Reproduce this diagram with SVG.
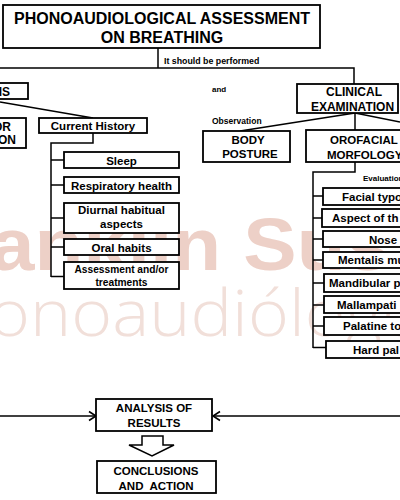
<svg xmlns="http://www.w3.org/2000/svg" width="400" height="500" viewBox="0 0 400 500">
<defs>
<style>
.box{fill:#fff;stroke:#000;stroke-width:1.8}
.t{font-family:"Liberation Sans",Arial,sans-serif;font-weight:bold;fill:#000}
.c{text-anchor:middle}
.e{text-anchor:end}
.ln{fill:none;stroke:#000;stroke-width:1.5}
.wm1{font-family:"Liberation Sans",Arial,sans-serif;font-weight:bold;fill:#edd0c7}
.wm2{font-family:"Open Sans","Liberation Sans",sans-serif;font-weight:300;fill:#f1dfd9}
</style>
<marker id="arr" markerUnits="userSpaceOnUse" markerWidth="12" markerHeight="12" refX="9" refY="6" orient="auto">
<path d="M2,1.5 L9,6 L2,10.5" fill="none" stroke="#000" stroke-width="1.6"/>
</marker>
</defs>
<rect width="400" height="500" fill="#fff"/>
<g id="watermark">
<text class="wm1" x="-90" y="270" font-size="74" textLength="480" lengthAdjust="spacingAndGlyphs">Franklin Sus</text>
<text class="wm2" x="-32" y="336" font-size="64" textLength="455" lengthAdjust="spacingAndGlyphs">fonoaudiólogo</text>
</g>
<g id="connectors">
<polyline class="ln" points="158,48 158,68"/>
<polyline class="ln" points="0,68 354,68 354,84"/>
<line class="ln" x1="0" y1="102" x2="93" y2="118"/>
<polyline class="ln" points="93,133 93,143 51,143 51,277"/>
<line class="ln" x1="51" y1="160" x2="64" y2="160"/>
<line class="ln" x1="51" y1="185" x2="64" y2="185"/>
<line class="ln" x1="51" y1="218" x2="64" y2="218"/>
<line class="ln" x1="51" y1="247" x2="64" y2="247"/>
<line class="ln" x1="51" y1="276.5" x2="64" y2="276.5"/>
<line class="ln" x1="355" y1="113" x2="240" y2="131"/>
<line class="ln" x1="355" y1="113" x2="400" y2="122"/>
<line class="ln" x1="355" y1="113" x2="355" y2="130"/>
<polyline class="ln" points="355,162 355,172 313,172 313,348"/>
<line class="ln" x1="313" y1="196" x2="323" y2="196"/>
<line class="ln" x1="313" y1="218" x2="322" y2="218"/>
<line class="ln" x1="313" y1="239" x2="323" y2="239"/>
<line class="ln" x1="313" y1="260" x2="323" y2="260"/>
<line class="ln" x1="313" y1="283" x2="324" y2="283"/>
<line class="ln" x1="313" y1="305" x2="324" y2="305"/>
<line class="ln" x1="313" y1="326" x2="324" y2="326"/>
<line class="ln" x1="313" y1="347.5" x2="326" y2="347.5"/>
<line class="ln" x1="0" y1="416" x2="96" y2="416" marker-end="url(#arr)"/>
<line class="ln" x1="400" y1="416" x2="213" y2="416" marker-end="url(#arr)"/>
<polygon points="142,436 163,436 163,445 174,445 152,456 129,445 142,445" fill="#fff" stroke="#000" stroke-width="1.5"/>
</g>
<g id="labels">
<text class="t" x="164" y="64" font-size="8.8">It should be performed</text>
<text class="t" x="212" y="92" font-size="8">and</text>
<text class="t" x="212" y="124" font-size="8.5">Observation</text>
<text class="t" x="363" y="181" font-size="8" font-weight="normal">Evaluation</text>
</g>
<g id="title">
<rect class="box" x="3" y="5" width="317" height="43"/>
<text class="t c" x="162" y="23.5" font-size="16">PHONOAUDIOLOGICAL ASSESSMENT</text>
<text class="t c" x="162" y="43" font-size="16">ON BREATHING</text>
</g>
<g id="anamnesis">
<rect class="box" x="-5" y="83" width="33" height="16"/>
<text class="t e" x="10" y="96" font-size="12">IS</text>
</g>
<g id="prior">
<rect class="box" x="-5" y="118" width="31" height="30"/>
<text class="t e" x="11" y="131" font-size="12">OR</text>
<text class="t e" x="16" y="144" font-size="12">ON</text>
</g>
<g id="current-history">
<rect class="box" x="39" y="118" width="108" height="15"/>
<text class="t c" x="93" y="130" font-size="11.5">Current History</text>
</g>
<g id="sleep">
<rect class="box" x="64" y="152" width="115" height="16"/>
<text class="t c" x="121.5" y="164.5" font-size="11.5">Sleep</text>
</g>
<g id="respiratory-health">
<rect class="box" x="64" y="177" width="115" height="16"/>
<text class="t c" x="121.5" y="189.5" font-size="11.5">Respiratory health</text>
</g>
<g id="diurnal">
<rect class="box" x="64" y="203" width="115" height="30"/>
<text class="t c" x="121.5" y="214" font-size="11.5">Diurnal habitual</text>
<text class="t c" x="121.5" y="228" font-size="11.5">aspects</text>
</g>
<g id="oral-habits">
<rect class="box" x="64" y="239" width="115" height="16"/>
<text class="t c" x="121.5" y="251.5" font-size="11.5">Oral habits</text>
</g>
<g id="assessment-treatments">
<rect class="box" x="64" y="262" width="115" height="27"/>
<text class="t c" x="121.5" y="273" font-size="10.2">Assessment and/or</text>
<text class="t c" x="121.5" y="285.5" font-size="10.2">treatments</text>
</g>
<g id="clinical">
<rect class="box" x="297" y="84" width="101" height="29"/>
<text class="t c" x="354" y="96" font-size="12">CLINICAL</text>
<text class="t c" x="352.5" y="110.5" font-size="12">EXAMINATION</text>
</g>
<g id="body-posture">
<rect class="box" x="203" y="131" width="87" height="31"/>
<text class="t c" x="248" y="143.5" font-size="11.5">BODY</text>
<text class="t c" x="250" y="158" font-size="11.5">POSTURE</text>
</g>
<g id="orofacial">
<rect class="box" x="306" y="130" width="110" height="32"/>
<text class="t" x="330" y="144" font-size="11.5">OROFACIAL</text>
<text class="t" x="327" y="158.5" font-size="11.5">MORFOLOGY</text>
</g>
<g id="facial">
<rect class="box" x="323" y="188" width="100" height="17"/>
<text class="t" x="342" y="200.5" font-size="11.5">Facial typo</text>
</g>
<g id="aspect">
<rect class="box" x="322" y="209" width="100" height="18"/>
<text class="t" x="332" y="222" font-size="11.5">Aspect of th</text>
</g>
<g id="nose">
<rect class="box" x="323" y="231" width="100" height="16"/>
<text class="t" x="369" y="243.5" font-size="11.5">Nose</text>
</g>
<g id="mentalis">
<rect class="box" x="323" y="252" width="100" height="16"/>
<text class="t" x="338" y="264" font-size="11.5">Mentalis mu</text>
</g>
<g id="mandibular">
<rect class="box" x="324" y="274" width="100" height="18"/>
<text class="t" x="329" y="287" font-size="11.5">Mandibular p</text>
</g>
<g id="mallampati">
<rect class="box" x="324" y="296" width="100" height="17"/>
<text class="t" x="337" y="308.5" font-size="11.5">Mallampati</text>
</g>
<g id="palatine">
<rect class="box" x="324" y="317" width="100" height="18"/>
<text class="t" x="343" y="330" font-size="11.5">Palatine to</text>
</g>
<g id="hard-palate">
<rect class="box" x="326" y="341" width="100" height="17"/>
<text class="t" x="353" y="353.5" font-size="11.5">Hard pal</text>
</g>
<g id="analysis">
<rect class="box" x="96" y="399" width="116" height="32"/>
<text class="t c" x="154" y="412" font-size="11.5">ANALYSIS OF</text>
<text class="t c" x="154" y="426.5" font-size="11.5">RESULTS</text>
</g>
<g id="conclusions">
<rect class="box" x="97" y="461" width="119" height="32"/>
<text class="t c" x="156" y="475" font-size="11.5">CONCLUSIONS</text>
<text class="t c" x="156" y="489.5" font-size="11.5" xml:space="preserve">AND  ACTION</text>
</g>
</svg>
